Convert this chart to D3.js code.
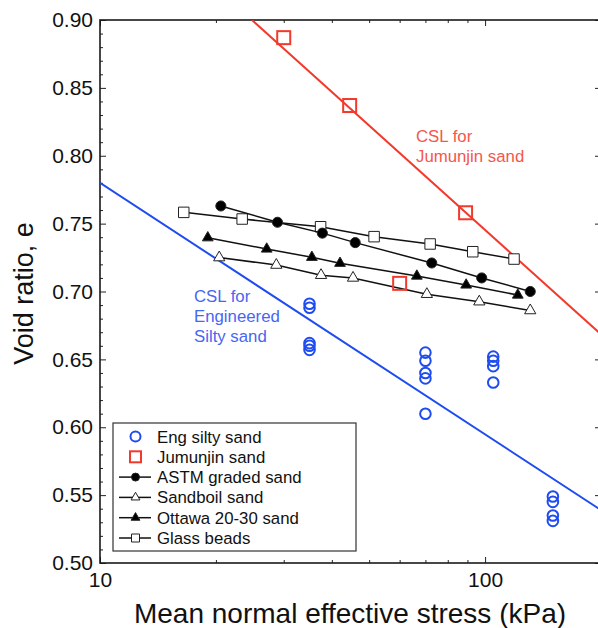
<!DOCTYPE html>
<html><head><meta charset="utf-8">
<script src="https://cdn.jsdelivr.net/npm/d3@7"></script>
<style>
html,body{margin:0;padding:0;background:#fff;}
svg{display:block;font-family:"Liberation Sans",Arial,Helvetica,sans-serif;}
</style></head>
<body><svg id="chart" width="598" height="628"></svg>
<script>
// ---- data ----
const engP = [35,35,35,35,35, 70,70,70,70,70, 105,105,105,105, 150,150,150,150];
const engE = [0.691,0.688,0.662,0.660,0.657, 0.655,0.649,0.640,0.636,0.610, 0.652,0.649,0.645,0.633, 0.549,0.545,0.535,0.531];
const jumP = [30, 44.5, 60, 89];
const jumE = [0.887, 0.837, 0.706, 0.758];
const astmP = [20.6, 28.9, 37.8, 46, 72.7, 98, 131];
const astmE = [0.763, 0.751, 0.743, 0.736, 0.721, 0.710, 0.700];
const sandboilP = [20.4, 28.7, 37.5, 45.4, 70.6, 96.6, 131];
const sandboilE = [0.725, 0.7195, 0.712, 0.710, 0.698, 0.6925, 0.686];
const ottawaP = [19.05, 27.1, 35.5, 42, 66.5, 89.3, 121.6];
const ottawaE = [0.7396, 0.7313, 0.7252, 0.7208, 0.7114, 0.7048, 0.6974];
const glassP = [16.5, 23.4, 37.4, 51.5, 72, 92.9, 118.9];
const glassE = [0.7583, 0.7534, 0.7477, 0.7404, 0.735, 0.7293, 0.7239];
const cslJumP = [24.8, 200];
const cslJumE = [0.900, 0.6684];
const cslEngP = [10, 200];
const cslEngE = [0.780, 0.539];
const yTicks = [0.50,0.55,0.60,0.65,0.70,0.75,0.80,0.85,0.90];
const xTicks = [10, 100];
const legendLabels = ["Eng silty sand","Jumunjin sand","ASTM graded sand","Sandboil sand","Ottawa 20-30 sand","Glass beads"];

// ---- layout ----
const L = 100, R = 601, T = 20, B = 563;
const svg = d3.select("#chart");
const x = d3.scaleLog().domain([10, 200]).range([L, R]);
const y = d3.scaleLinear().domain([0.5, 0.9]).range([B, T]);
const RED = "#f23a2c", BLUE = "#1f4cf0";
const RED_T = "#f4574c", BLUE_T = "#4766f2";
const fontTick = 21;

svg.append("defs").append("clipPath").attr("id","clip")
  .append("rect").attr("x",L).attr("y",T).attr("width",R-L).attr("height",B-T);

// minor tick values
const yMinor = d3.range(50, 91).map(v => v/100).filter(v => Math.round(v*100) % 5 !== 0);
const xMinor = [20,30,40,50,60,70,80,90,200];

function styleAxis(g){
  g.select(".domain").remove();
  g.selectAll(".tick line").attr("stroke","#222").attr("stroke-width",1);
  g.selectAll("text").attr("fill","#111").style("font-size", fontTick+"px");
}
// left
svg.append("g").attr("transform",`translate(${L},0)`)
  .call(d3.axisLeft(y).tickValues(yTicks).tickFormat(d3.format(".2f")).tickSize(-6).tickPadding(7)).call(styleAxis);
svg.append("g").attr("transform",`translate(${L},0)`)
  .call(d3.axisLeft(y).tickValues(yMinor).tickFormat("").tickSize(-3)).call(styleAxis);
// right
svg.append("g").attr("transform",`translate(${R},0)`)
  .call(d3.axisRight(y).tickValues(yTicks).tickFormat("").tickSize(-6)).call(styleAxis);
svg.append("g").attr("transform",`translate(${R},0)`)
  .call(d3.axisRight(y).tickValues(yMinor).tickFormat("").tickSize(-3)).call(styleAxis);
// bottom
svg.append("g").attr("transform",`translate(0,${B})`)
  .call(d3.axisBottom(x).tickValues(xTicks).tickFormat(d3.format("d")).tickSize(-6).tickPadding(9)).call(styleAxis);
svg.append("g").attr("transform",`translate(0,${B})`)
  .call(d3.axisBottom(x).tickValues(xMinor).tickFormat("").tickSize(-3)).call(styleAxis);
// top
svg.append("g").attr("transform",`translate(0,${T})`)
  .call(d3.axisTop(x).tickValues(xTicks).tickFormat("").tickSize(-6)).call(styleAxis);
svg.append("g").attr("transform",`translate(0,${T})`)
  .call(d3.axisTop(x).tickValues(xMinor).tickFormat("").tickSize(-3)).call(styleAxis);

// frame
svg.append("rect").attr("x",L).attr("y",T).attr("width",R-L).attr("height",B-T)
  .attr("fill","none").attr("stroke","#1a1a1a").attr("stroke-width",1.6);

const plot = svg.append("g").attr("clip-path","url(#clip)");
const line = d3.line().x(d => x(d[0])).y(d => y(d[1]));
const zip = (P, E) => P.map((p,i) => [p, E[i]]);

// CSL lines
plot.append("path").datum(zip(cslJumP, cslJumE)).attr("d", line)
  .attr("fill","none").attr("stroke",RED).attr("stroke-width",2);
plot.append("path").datum(zip(cslEngP, cslEngE)).attr("d", line)
  .attr("fill","none").attr("stroke",BLUE).attr("stroke-width",2);

// black series
const series = [
  {P: glassP, E: glassE, sym: d3.symbolSquare, size: 110, fill: "#fff"},
  {P: astmP, E: astmE, sym: d3.symbolCircle, size: 80, fill: "#000"},
  {P: ottawaP, E: ottawaE, sym: d3.symbolTriangle, size: 50, fill: "#000"},
  {P: sandboilP, E: sandboilE, sym: d3.symbolTriangle, size: 55, fill: "#fff"}
];
series.forEach(s => {
  const pts = zip(s.P, s.E);
  plot.append("path").datum(pts).attr("d", line).attr("fill","none")
    .attr("stroke","#111").attr("stroke-width",1.5);
  plot.selectAll(null).data(pts).enter().append("path")
    .attr("transform", d => `translate(${x(d[0])},${y(d[1])})`)
    .attr("d", d3.symbol().type(s.sym).size(s.size)())
    .attr("fill", s.fill).attr("stroke","#222").attr("stroke-width",1);
});

// Jumunjin squares
plot.selectAll(null).data(zip(jumP, jumE)).enter().append("rect")
  .attr("x", d => x(d[0]) - 6.5).attr("y", d => y(d[1]) - 6.5)
  .attr("width",13).attr("height",13)
  .attr("fill","none").attr("stroke",RED).attr("stroke-width",2);

// Eng silty sand circles
plot.selectAll(null).data(zip(engP, engE)).enter().append("circle")
  .attr("cx", d => x(d[0])).attr("cy", d => y(d[1])).attr("r",5.3)
  .attr("fill","none").attr("stroke",BLUE).attr("stroke-width",2);

// annotations
const fAnn = 16.8;
const ann1 = svg.append("text").attr("fill",RED_T).style("font-size",fAnn+"px");
ann1.append("tspan").attr("x",416).attr("y",141.5).text("CSL for");
ann1.append("tspan").attr("x",416).attr("y",161.5).text("Jumunjin sand");
const ann2 = svg.append("text").attr("fill",BLUE_T).style("font-size",fAnn+"px");
ann2.append("tspan").attr("x",194).attr("y",302).text("CSL for");
ann2.append("tspan").attr("x",194).attr("y",322).text("Engineered");
ann2.append("tspan").attr("x",194).attr("y",342).text("Silty sand");

// legend
const lg = svg.append("g");
lg.append("rect").attr("x",113).attr("y",423).attr("width",243).attr("height",128)
  .attr("fill","#fff").attr("stroke","#333").attr("stroke-width",1.2);
const ly = i => 436.5 + i*20.3;
const lsx = 135.5;
lg.append("circle").attr("cx",lsx).attr("cy",ly(0)).attr("r",5)
  .attr("fill","none").attr("stroke",BLUE).attr("stroke-width",2);
lg.append("rect").attr("x",lsx-5.5).attr("y",ly(1)-5.5).attr("width",11).attr("height",11)
  .attr("fill","none").attr("stroke",RED).attr("stroke-width",2);
const legSyms = [
  {sym: d3.symbolCircle, size: 50, fill:"#000"},
  {sym: d3.symbolTriangle, size: 34, fill:"#fff"},
  {sym: d3.symbolTriangle, size: 34, fill:"#000"},
  {sym: d3.symbolSquare, size: 64, fill:"#fff"}
];
legSyms.forEach((s,k) => {
  const i = k + 2;
  lg.append("line").attr("x1",119).attr("x2",151).attr("y1",ly(i)).attr("y2",ly(i))
    .attr("stroke","#111").attr("stroke-width",1.5);
  lg.append("path").attr("transform",`translate(${lsx},${ly(i)})`)
    .attr("d", d3.symbol().type(s.sym).size(s.size)())
    .attr("fill", s.fill).attr("stroke","#222").attr("stroke-width",1);
});
lg.selectAll(null).data(legendLabels).enter().append("text")
  .attr("x",157).attr("y",(d,i) => ly(i)).attr("dy","0.36em")
  .attr("fill","#111").style("font-size","16.8px").text(d => d);

// axis titles
svg.append("text").attr("x",350).attr("y",623).attr("text-anchor","middle")
  .attr("fill","#111").style("font-size","28px").text("Mean normal effective stress (kPa)");
svg.append("text").attr("transform","translate(33,293.5) rotate(-90)").attr("text-anchor","middle")
  .attr("fill","#111").style("font-size","27px").text("Void ratio, e");
</script></body></html>
